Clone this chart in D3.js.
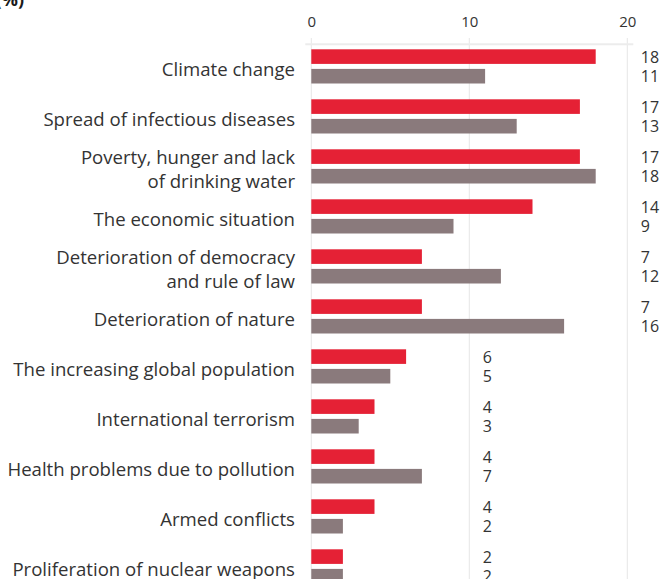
<!DOCTYPE html>
<html><head><script src="https://cdn.jsdelivr.net/npm/d3@7"></script>
<style>body{margin:0;background:#fff}svg{display:block}text{font-family:"Open Sans",sans-serif}</style></head>
<body>
<svg id="s" width="662" height="579"></svg>
<script>
const categories = [
  ["Climate change"],
  ["Spread of infectious diseases"],
  ["Poverty, hunger and lack", "of drinking water"],
  ["The economic situation"],
  ["Deterioration of democracy", "and rule of law"],
  ["Deterioration of nature"],
  ["The increasing global population"],
  ["International terrorism"],
  ["Health problems due to pollution"],
  ["Armed conflicts"],
  ["Proliferation of nuclear weapons"]
];
const seriesNames = ["Series 1", "Series 2"];
const series1 = [18, 17, 17, 14, 7, 7, 6, 4, 4, 4, 2];
const series2 = [11, 13, 18, 9, 12, 16, 5, 3, 7, 2, 2];
const xTicks = [0, 10, 20];
const titleText = "(%)";

(function () {
const colors = {"Series 1": "#e52135", "Series 2": "#8a7a7c"};
const svg = d3.select("#s");

const x = d3.scaleLinear().domain([0, 20]).range([311.3, 627.3]);
const keys = categories.map(c => c.join(" "));
const rowStep = 50, topY = 44.3;
const y = d3.scaleBand().domain(keys).range([topY, topY + rowStep * keys.length]).padding(0);
const inner = d3.scaleBand().domain(seriesNames).range([5, 39.2]).paddingInner(0.255);
const valOffset = {"Series 1": 6.7, "Series 2": 5.5};

// title (cut at top)
svg.append("text").attr("x", 24).attr("y", 6).attr("text-anchor", "end")
  .style("font-size", "18px").style("font-weight", "bold").attr("fill", "#1a1a1a").text(titleText);

// grid lines
svg.append("g").selectAll("line").data(xTicks).join("line")
  .attr("x1", d => x(d)).attr("x2", d => x(d))
  .attr("y1", 38).attr("y2", topY + rowStep * keys.length + 10)
  .attr("stroke", "#e6e6e6").attr("stroke-width", 1);
// axis baseline
svg.append("line").attr("x1", x(0) - 6).attr("x2", x(20) + 6)
  .attr("y1", topY).attr("y2", topY).attr("stroke", "#ececec").attr("stroke-width", 2);

// tick labels
const axis = d3.axisTop(x).tickValues(xTicks).tickSize(0).tickPadding(0);
const ag = svg.append("g").attr("transform", "translate(0,27)").call(axis);
ag.select(".domain").remove();
ag.selectAll("text").attr("dy", 0).style("font-size", "15px").style("font-family", "'Open Sans',sans-serif").attr("fill", "#333");

// rows
const rows = svg.append("g").selectAll("g").data(keys).join("g")
  .attr("transform", d => `translate(0,${y(d)})`);

const vals = (i) => [{k: seriesNames[0], v: series1[i]}, {k: seriesNames[1], v: series2[i]}];

rows.each(function(key, i) {
  const g = d3.select(this);
  const d = vals(i);
  g.selectAll("rect").data(d).join("rect")
    .attr("x", x(0)).attr("y", e => inner(e.k))
    .attr("width", e => x(e.v) - x(0)).attr("height", inner.bandwidth())
    .attr("fill", e => colors[e.k]);
  const labelX = x(Math.ceil(d3.max(d, e => e.v) / 10) * 10) + 13.5;
  g.selectAll("text.val").data(d).join("text").attr("class", "val")
    .attr("x", labelX).attr("y", e => inner(e.k) + inner.bandwidth() / 2 + valOffset[e.k])
    .style("font-size", "16px").attr("fill", "#333").text(e => e.v);
  const lines = categories[i];
  const center = 5 + 34.2 / 2 + 9.4;
  const lh = 24;
  g.append("text").attr("text-anchor", "end").style("font-size", "18.6px").attr("fill", "#333")
    .selectAll("tspan").data(lines).join("tspan")
    .attr("x", 295).attr("y", (l, j) => center + (j - (lines.length - 1) / 2) * lh)
    .text(l => l);
});
})();
</script></body></html>
